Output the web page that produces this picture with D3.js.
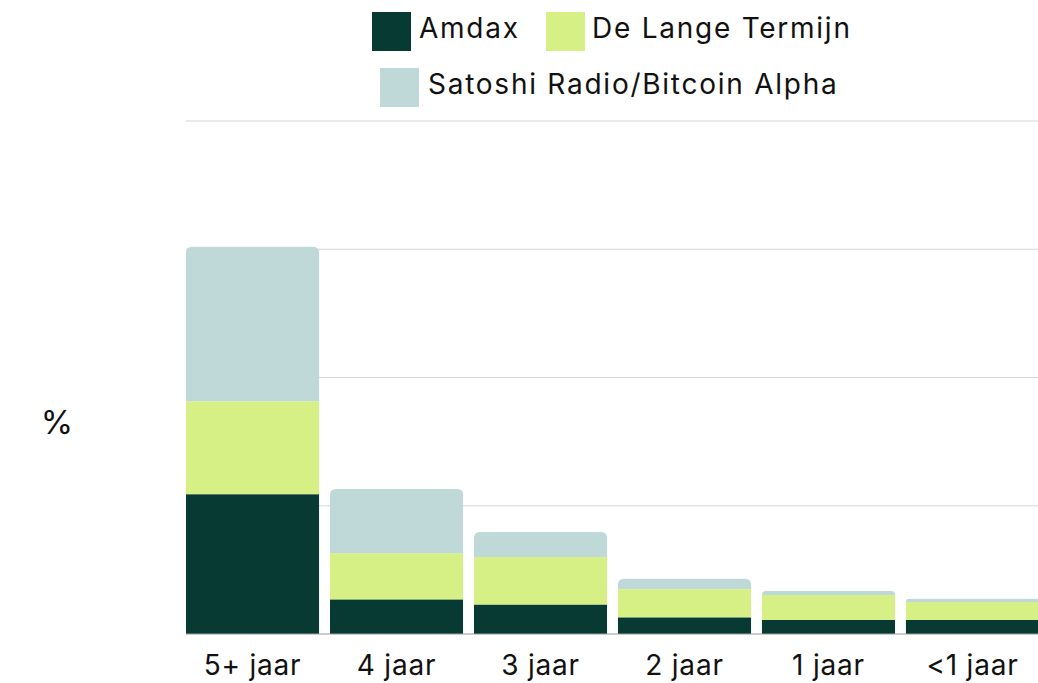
<!DOCTYPE html>
<html>
<head>
<meta charset="utf-8">
<script src="https://cdn.jsdelivr.net/npm/d3@7/dist/d3.min.js"></script>
<style>
  html, body { margin: 0; padding: 0; background: #ffffff; }
  svg { display: block; }
  text { font-family: Inter, "Liberation Sans", sans-serif; fill: #111; }
</style>
</head>
<body>
<svg id="chart" width="1038" height="683"></svg>
<script>
const categories = ["5+ jaar", "4 jaar", "3 jaar", "2 jaar", "1 jaar", "<1 jaar"];
const seriesNames = ["Amdax", "De Lange Termijn", "Satoshi Radio/Bitcoin Alpha"];
const amdax = [10.9, 2.7, 2.3, 1.3, 1.1, 1.1];
const deLangeTermijn = [7.25, 3.6, 3.7, 2.2, 1.95, 1.4];
const satoshiRadio = [12.05, 5.0, 1.95, 0.8, 0.3, 0.25];
const yTicks = [0, 10, 20, 30, 40];
const colors = ["#063a32", "#d7f085", "#bed9d8"];

const svg = d3.select("#chart");
const W = 1038, H = 683;

const x = d3.scaleBand()
  .domain(categories)
  .range([186, 1039])
  .paddingInner(0.076)
  .paddingOuter(0);
const y = d3.scaleLinear().domain([0, 40]).range([634, 121]);

// gridlines
svg.append("g")
  .selectAll("line")
  .data(yTicks.filter(d => d > 0))
  .join("line")
  .attr("x1", 186).attr("x2", W)
  .attr("y1", d => y(d)).attr("y2", d => y(d))
  .attr("stroke", "#d6d6d6").attr("stroke-width", 1.2);

const seriesData = [amdax, deLangeTermijn, satoshiRadio];
const rows = categories.map((c, i) => {
  const o = { cat: c };
  seriesNames.forEach((s, j) => o[s] = seriesData[j][i]);
  return o;
});
const stack = d3.stack().keys(seriesNames)(rows);

const r = 6;
function roundedTop(x0, y0, w, h) {
  const rr = Math.min(r, h, w / 2);
  return `M${x0},${y0 + h}V${y0 + rr}Q${x0},${y0} ${x0 + rr},${y0}H${x0 + w - rr}Q${x0 + w},${y0} ${x0 + w},${y0 + rr}V${y0 + h}Z`;
}

stack.forEach((layer, li) => {
  const g = svg.append("g").attr("fill", colors[li]);
  layer.forEach((d, i) => {
    const x0 = x(categories[i]);
    const w = x.bandwidth();
    const yTop = y(d[1]);
    const yBot = y(d[0]);
    if (li === stack.length - 1) {
      g.append("path").attr("d", roundedTop(x0, yTop, w, yBot - yTop));
    } else {
      g.append("rect").attr("x", x0).attr("y", yTop).attr("width", w).attr("height", yBot - yTop);
    }
  });
});

// baseline
svg.append("line")
  .attr("x1", 186).attr("x2", W)
  .attr("y1", y(0)).attr("y2", y(0))
  .attr("stroke", "#9a9a9a").attr("stroke-width", 1.2);

// x axis labels
const xAxis = d3.axisBottom(x).tickSize(0).tickPadding(0);
const gx = svg.append("g").attr("transform", `translate(0,${y(0)})`).call(xAxis);
gx.select(".domain").remove();
gx.selectAll("text")
  .attr("y", 41)
  .attr("dy", null)
  .style("font-size", "28px")
  .style("letter-spacing", "0.8px")
  .style("font-family", "Inter, 'Liberation Sans', sans-serif")
  .attr("fill", "#111");

// y label
svg.append("text")
  .attr("x", 57).attr("y", 434)
  .attr("text-anchor", "middle")
  .style("font-size", "33px")
  .text("%");

// legend
const legendItems = [
  { name: seriesNames[0], color: colors[0], sx: 372, sy: 12, tx: 419, ty: 38 },
  { name: seriesNames[1], color: colors[1], sx: 546, sy: 12, tx: 592, ty: 38 },
  { name: seriesNames[2], color: colors[2], sx: 380, sy: 68, tx: 428, ty: 94 }
];
const lg = svg.append("g");
legendItems.forEach(it => {
  lg.append("rect").attr("x", it.sx).attr("y", it.sy).attr("width", 39).attr("height", 39).attr("fill", it.color);
  lg.append("text").attr("x", it.tx).attr("y", it.ty)
    .style("font-size", "28px")
    .style("letter-spacing", "1.75px")
    .text(it.name);
});
</script>
</body>
</html>
